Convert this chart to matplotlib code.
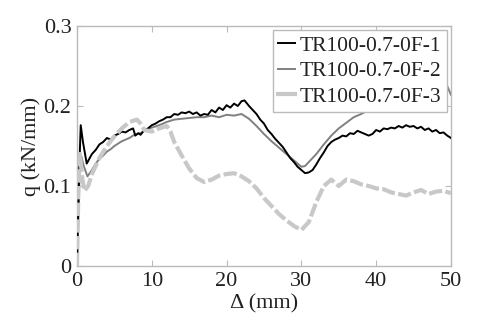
import matplotlib
matplotlib.use("Agg")
import matplotlib.pyplot as plt

plt.rcParams['font.family'] = ['Liberation Serif', 'DejaVu Serif']

labels = ["TR100-0.7-0F-1", "TR100-0.7-0F-2", "TR100-0.7-0F-3"]

x1 = [0, 0.3, 0.5, 0.8, 1.3, 2, 2.5, 3, 3.5, 4, 4.5, 5, 5.5, 6, 6.5, 7, 7.5, 7.8, 8.2, 8.5,
      9, 9.5, 10, 10.5, 11, 11.5, 12, 12.5, 13, 13.5, 14, 14.5, 15, 15.5, 16, 16.5, 17, 17.5,
      18, 18.5, 19, 19.5, 20, 20.5, 21, 21.5, 22, 22.4, 23, 23.5, 24, 24.5, 25, 25.5, 26, 26.5,
      27, 27.5, 28, 28.5, 29, 29.5, 30, 30.5, 31, 31.5, 32, 32.5, 33, 33.5, 34, 34.5, 35, 35.5,
      36, 36.5, 37, 37.5, 38, 38.5, 39, 39.5, 40, 40.5, 41, 41.5, 42, 42.5, 43, 43.5, 44, 44.5,
      45, 45.5, 46, 46.5, 47, 47.5, 48, 48.5, 49, 49.5, 50]
y1 = [0, 0.12, 0.176, 0.155, 0.128, 0.14, 0.145, 0.152, 0.155, 0.16, 0.158, 0.163, 0.165, 0.168,
      0.167, 0.17, 0.172, 0.163, 0.166, 0.164, 0.17, 0.172, 0.176, 0.178, 0.181, 0.183, 0.186,
      0.186, 0.19, 0.189, 0.192, 0.191, 0.193, 0.19, 0.192, 0.188, 0.19, 0.189, 0.195, 0.192,
      0.198, 0.195, 0.201, 0.198, 0.203, 0.2, 0.206, 0.207, 0.2, 0.195, 0.19, 0.183, 0.178, 0.17,
      0.165, 0.159, 0.154, 0.149, 0.142, 0.135, 0.13, 0.124, 0.12, 0.116, 0.117, 0.12, 0.127,
      0.135, 0.142, 0.15, 0.155, 0.158, 0.16, 0.163, 0.162, 0.166, 0.165, 0.169, 0.167, 0.165,
      0.163, 0.165, 0.17, 0.168, 0.172, 0.171, 0.173, 0.172, 0.175, 0.173, 0.176, 0.174, 0.175,
      0.172, 0.174, 0.17, 0.172, 0.168, 0.17, 0.166, 0.167, 0.163, 0.16]

x2 = [0, 0.3, 0.5, 0.9, 1.4, 2, 2.5, 3, 3.5, 4, 4.5, 5, 5.5, 6, 6.5, 7, 7.5, 8, 8.5, 9, 9.5,
      10, 11, 12, 13, 14, 15, 16, 17, 18, 19, 20, 21, 22, 23, 24, 25, 26, 27, 28, 29, 30, 30.5,
      31, 32, 33, 34, 35, 36, 37, 38, 39, 40, 41, 42, 44, 46, 48, 49.5, 50]
y2 = [0, 0.1, 0.14, 0.125, 0.112, 0.12, 0.128, 0.134, 0.138, 0.143, 0.146, 0.15, 0.153, 0.156,
      0.158, 0.16, 0.163, 0.165, 0.166, 0.169, 0.171, 0.173, 0.176, 0.18, 0.183, 0.184, 0.185,
      0.186, 0.186, 0.188, 0.186, 0.189, 0.188, 0.19, 0.184, 0.175, 0.165, 0.156, 0.148, 0.14,
      0.132, 0.124, 0.125, 0.13, 0.14, 0.152, 0.163, 0.172, 0.179, 0.186, 0.19, 0.195, 0.202,
      0.207, 0.211, 0.215, 0.219, 0.222, 0.225, 0.214]

x3 = [0, 0.2, 0.4, 0.7, 1.0, 1.5, 2, 3, 4, 5, 6, 7, 8, 8.5, 9, 10, 11, 12, 12.5, 13, 14, 15,
      16, 17, 18, 19, 20, 21, 22, 23, 24, 25, 26, 27, 28, 29, 30, 31, 32, 33, 34, 35, 36, 37,
      38, 39, 40, 41, 42, 43, 44, 45, 46, 47, 48, 49, 50]
y3 = [0, 0.1, 0.14, 0.11, 0.094, 0.1, 0.115, 0.135, 0.15, 0.162, 0.172, 0.18, 0.183, 0.178,
      0.17, 0.168, 0.172, 0.175, 0.168, 0.155, 0.138, 0.122, 0.11, 0.105, 0.108, 0.113, 0.115,
      0.116, 0.112, 0.106, 0.097, 0.085, 0.075, 0.065, 0.057, 0.05, 0.045, 0.055, 0.08, 0.1,
      0.108, 0.1, 0.108, 0.106, 0.102, 0.1, 0.097, 0.096, 0.092, 0.09, 0.088, 0.092, 0.095,
      0.09, 0.093, 0.094, 0.091]

xticks = [0, 10, 20, 30, 40, 50]
yticks = [0, 0.1, 0.2, 0.3]
yticklabels = ["0", "0.1", "0.2", "0.3"]

fig = plt.figure(figsize=(4.96, 3.2), dpi=100)
ax = fig.add_axes([0.1552, 0.16875, 0.754, 0.75])

ax.plot(x1, y1, color='black', lw=1.4, label=labels[0], zorder=3)
ax.plot(x2, y2, color='#808080', lw=1.4, label=labels[1], zorder=2)
ax.plot(x3, y3, color='#c8c8c8', lw=3.0, dashes=(3.2, 0.8), label=labels[2], zorder=4)

ax.set_xlim(0, 50)
ax.set_ylim(0, 0.3)
ax.set_xticks(xticks)
ax.set_yticks(yticks)
ax.set_yticklabels(yticklabels)
ax.tick_params(direction='in', top=True, right=True, length=4, color='#bbbbbb',
               labelsize=16, labelcolor='#222222', pad=4)
for s in ax.spines.values():
    s.set_color('#bbbbbb')
    s.set_linewidth(1.0)

ax.set_xlabel('Δ (mm)', fontsize=16, color='#222222', labelpad=3)
ax.set_ylabel('q (kN/mm)', fontsize=16, color='#222222', labelpad=2)

leg = ax.legend(loc='upper right', fontsize=15.5, frameon=True, fancybox=False,
                borderaxespad=0.2, handlelength=0.8, handletextpad=0.2,
                labelspacing=0.25, borderpad=0.25, framealpha=1.0)
leg.get_frame().set_edgecolor('#bbbbbb')
leg.get_frame().set_linewidth(1.0)
leg.set_zorder(10)
for h in leg.get_lines():
    h.set_linestyle('-')
for t in leg.get_texts():
    t.set_color('#222222')

fig.savefig('out.png', dpi=100)
